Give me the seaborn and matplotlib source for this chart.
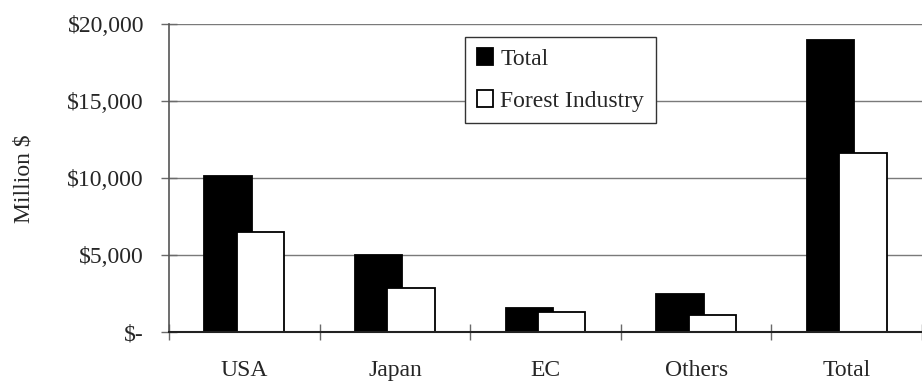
import numpy as np
import pandas as pd
import matplotlib
matplotlib.use("Agg")
import matplotlib.pyplot as plt
import seaborn as sns

# Export values by destination, million dollars
regions = ["USA", "Japan", "EC", "Others", "Total"]
total_values = [10150, 5000, 1550, 2500, 19000]
forest_values = [6500, 2900, 1300, 1150, 11650]
series_names = ["Total", "Forest Industry"]
y_ticks = [0, 5000, 10000, 15000, 20000]
y_tick_labels = ["$-", "$5,000", "$10,000", "$15,000", "$20,000"]

df = pd.DataFrame({
    "region": regions * 2,
    "series": [series_names[0]] * len(regions) + [series_names[1]] * len(regions),
    "value": total_values + forest_values,
})

sns.set_style("white")
plt.rcParams["font.family"] = ["Liberation Serif", "DejaVu Serif"]
FS = 17
plt.rcParams["font.size"] = FS

fig = plt.figure(figsize=(9.22, 3.83), dpi=100)
ax = fig.add_axes([0.1833, 0.1324, 0.8167, 0.8042])

sns.barplot(
    data=df, x="region", y="value", hue="series", order=regions,
    hue_order=series_names,
    palette={"Total": "black", "Forest Industry": "white"},
    edgecolor="black", linewidth=1.3, errorbar=None, ax=ax,
)

# Overlapping bars: each bar is wider than half the group and shifted only slightly
bar_w = 0.315
shift = 0.108
for patch in ax.patches:
    if patch.get_width() <= 0:
        continue
    center = patch.get_x() + patch.get_width() / 2
    cat = round(center)
    side = -1 if center < cat else 1
    patch.set_width(bar_w)
    patch.set_x(cat + side * shift - bar_w / 2)

ax.set_xlim(-0.5, 4.438)
ax.set_ylim(0, 20000)

ax.set_yticks(y_ticks)
ax.set_yticklabels(y_tick_labels)
ax.yaxis.grid(True, color="#7a7a7a", linewidth=1.0)
ax.set_axisbelow(True)

# Category boundaries carry the tick marks, centres carry the labels
ax.set_xticks(np.arange(-0.5, len(regions), 1.0))
ax.set_xticklabels([])
ax.set_xticks(range(len(regions)), minor=True)
ax.set_xticklabels(regions, minor=True)
ax.tick_params(axis="x", which="major", bottom=True, direction="inout",
               length=11, width=1, color="#6a6a6a")
ax.tick_params(axis="x", which="minor", bottom=True, length=0, pad=20)
ax.tick_params(axis="y", left=True, direction="inout", length=11, width=1,
               color="#6a6a6a", pad=12.5)

ax.set_xlabel("")
ax.set_ylabel("Million $", fontsize=FS)
ax.yaxis.set_label_coords(-0.178, 0.5)

for side in ["top", "right"]:
    ax.spines[side].set_visible(False)
ax.spines["left"].set_color("#555555")
ax.spines["left"].set_linewidth(1.2)
ax.spines["bottom"].set_color("#222222")
ax.spines["bottom"].set_linewidth(1.5)

handles, labels = ax.get_legend_handles_labels()
leg = ax.legend(
    handles, labels, loc="upper left", bbox_to_anchor=(0.393, 0.96),
    borderaxespad=0, frameon=True, fancybox=False, fontsize=FS,
    handlelength=0.7, handleheight=0.7, handletextpad=0.3,
    labelspacing=0.85, borderpad=0.5,
)
leg.get_frame().set_edgecolor("#333333")
leg.get_frame().set_linewidth(1.0)
leg.get_frame().set_alpha(1)

fig.savefig("out.png", dpi=100)
